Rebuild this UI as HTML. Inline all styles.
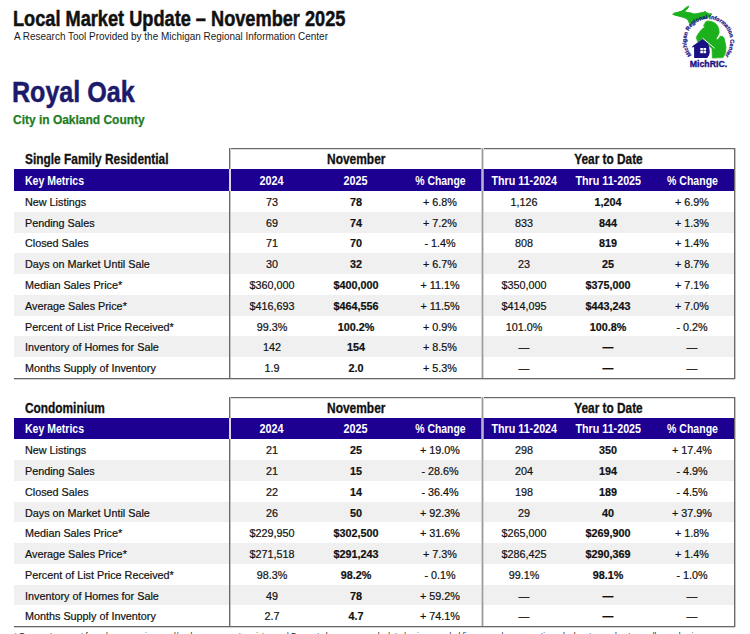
<!DOCTYPE html><html><head><meta charset="utf-8"><style>
html,body{margin:0;padding:0;background:#fff;width:750px;height:634px;overflow:hidden;position:relative}
.t{position:absolute;white-space:nowrap;font-family:"Liberation Sans", sans-serif;line-height:1;}
.b{position:absolute}
</style></head><body>
<div class="b" style="left:14px;top:169px;width:720px;height:22px;background:#1d0092"></div>
<div class="b" style="left:14px;top:212px;width:720px;height:21px;background:#f0f0f0"></div>
<div class="b" style="left:14px;top:253px;width:720px;height:21px;background:#f0f0f0"></div>
<div class="b" style="left:14px;top:295px;width:720px;height:21px;background:#f0f0f0"></div>
<div class="b" style="left:14px;top:336px;width:720px;height:21px;background:#f0f0f0"></div>
<div class="b" style="left:229px;top:148px;width:506px;height:1px;background:#686868"></div>
<div class="b" style="left:230px;top:149px;width:504px;height:1px;background:#dedede"></div>
<div class="b" style="left:229px;top:148px;width:1px;height:231px;background:#686868"></div>
<div class="b" style="left:230px;top:148px;width:1px;height:231px;background:#c4c4c4"></div>
<div class="b" style="left:734px;top:148px;width:1px;height:231px;background:#686868"></div>
<div class="b" style="left:735px;top:148px;width:1px;height:231px;background:#c4c4c4"></div>
<div class="b" style="left:482px;top:148px;width:1px;height:231px;background:#9a9a9a"></div>
<div class="b" style="left:481px;top:148px;width:1px;height:231px;background:#d6d6d6"></div>
<div class="b" style="left:483px;top:148px;width:1px;height:231px;background:#d6d6d6"></div>
<div class="b" style="left:229px;top:169px;width:2px;height:22px;background:#d8d8ea"></div>
<div class="b" style="left:481px;top:169px;width:3px;height:22px;background:#8f8fc0"></div>
<div class="b" style="left:482px;top:169px;width:1px;height:22px;background:#b4b4cc"></div>
<div class="b" style="left:14px;top:378px;width:721px;height:1px;background:#686868"></div>
<div class="b" style="left:14px;top:379px;width:721px;height:1px;background:#d0d0d0"></div>
<div class="b" style="left:14px;top:418px;width:720px;height:21px;background:#1d0092"></div>
<div class="b" style="left:14px;top:460px;width:720px;height:21px;background:#f0f0f0"></div>
<div class="b" style="left:14px;top:502px;width:720px;height:20px;background:#f0f0f0"></div>
<div class="b" style="left:14px;top:543px;width:720px;height:21px;background:#f0f0f0"></div>
<div class="b" style="left:14px;top:585px;width:720px;height:20px;background:#f0f0f0"></div>
<div class="b" style="left:229px;top:397px;width:506px;height:1px;background:#686868"></div>
<div class="b" style="left:230px;top:398px;width:504px;height:1px;background:#dedede"></div>
<div class="b" style="left:229px;top:397px;width:1px;height:230px;background:#686868"></div>
<div class="b" style="left:230px;top:397px;width:1px;height:230px;background:#c4c4c4"></div>
<div class="b" style="left:734px;top:397px;width:1px;height:230px;background:#686868"></div>
<div class="b" style="left:735px;top:397px;width:1px;height:230px;background:#c4c4c4"></div>
<div class="b" style="left:482px;top:397px;width:1px;height:230px;background:#9a9a9a"></div>
<div class="b" style="left:481px;top:397px;width:1px;height:230px;background:#d6d6d6"></div>
<div class="b" style="left:483px;top:397px;width:1px;height:230px;background:#d6d6d6"></div>
<div class="b" style="left:229px;top:418px;width:2px;height:21px;background:#d8d8ea"></div>
<div class="b" style="left:481px;top:418px;width:3px;height:21px;background:#8f8fc0"></div>
<div class="b" style="left:482px;top:418px;width:1px;height:21px;background:#b4b4cc"></div>
<div class="b" style="left:14px;top:626px;width:721px;height:1px;background:#686868"></div>
<div class="b" style="left:14px;top:627px;width:721px;height:1px;background:#d0d0d0"></div>
<div class="t" style="left:13.40px;top:7.55px;font-size:21.80px;font-weight:700;color:#111;-webkit-text-stroke:0.50px #111;"><span id="title" style="display:inline-block;transform:scaleX(0.8341);transform-origin:0 0">Local Market Update – November 2025</span></div>
<div class="t" style="left:14.30px;top:31.57px;font-size:10.20px;font-weight:400;color:#1a1a1a;"><span id="sub" style="display:inline-block;transform:scaleX(0.9766);transform-origin:0 0">A Research Tool Provided by the Michigan Regional Information Center</span></div>
<div class="t" style="left:12.40px;top:76.87px;font-size:29.80px;font-weight:700;color:#1b1a6b;-webkit-text-stroke:0.50px #1b1a6b;"><span id="city" style="display:inline-block;transform:scaleX(0.8414);transform-origin:0 0">Royal Oak</span></div>
<div class="t" style="left:13.00px;top:112.67px;font-size:13.50px;font-weight:700;color:#1e7d1e;-webkit-text-stroke:0.25px #1e7d1e;"><span id="county" style="display:inline-block;transform:scaleX(0.8866);transform-origin:0 0">City in Oakland County</span></div>
<div class="t" style="left:24.70px;top:152.15px;font-size:14.00px;font-weight:700;color:#111;-webkit-text-stroke:0.30px #111;"><span id="ah" style="display:inline-block;transform:scaleX(0.8497);transform-origin:0 0">Single Family Residential</span></div>
<div class="t" style="left:356.00px;top:152.15px;font-size:14.00px;font-weight:700;color:#111;width:0;display:flex;justify-content:center;-webkit-text-stroke:0.30px #111;"><span id="anov" style="display:inline-block;transform:scaleX(0.8529);transform-origin:50% 0">November</span></div>
<div class="t" style="left:608.00px;top:152.15px;font-size:14.00px;font-weight:700;color:#111;width:0;display:flex;justify-content:center;-webkit-text-stroke:0.30px #111;"><span id="aytd" style="display:inline-block;transform:scaleX(0.8457);transform-origin:50% 0">Year to Date</span></div>
<div class="t" style="left:24.70px;top:174.67px;font-size:12.20px;font-weight:700;color:#fff;"><span id="akm" style="display:inline-block;transform:scaleX(0.8632);transform-origin:0 0">Key Metrics</span></div>
<div class="t" style="left:272.00px;top:174.87px;font-size:12.20px;font-weight:700;color:#fff;width:0;display:flex;justify-content:center;"><span id="ahd0" style="display:inline-block;transform:scaleX(0.8889);transform-origin:50% 0">2024</span></div>
<div class="t" style="left:356.00px;top:174.87px;font-size:12.20px;font-weight:700;color:#fff;width:0;display:flex;justify-content:center;"><span id="ahd1" style="display:inline-block;transform:scaleX(0.8889);transform-origin:50% 0">2025</span></div>
<div class="t" style="left:440.00px;top:174.87px;font-size:12.20px;font-weight:700;color:#fff;width:0;display:flex;justify-content:center;"><span id="ahd2" style="display:inline-block;transform:scaleX(0.8559);transform-origin:50% 0">% Change</span></div>
<div class="t" style="left:524.00px;top:174.87px;font-size:12.20px;font-weight:700;color:#fff;width:0;display:flex;justify-content:center;"><span id="ahd3" style="display:inline-block;transform:scaleX(0.8800);transform-origin:50% 0">Thru 11-2024</span></div>
<div class="t" style="left:608.00px;top:174.87px;font-size:12.20px;font-weight:700;color:#fff;width:0;display:flex;justify-content:center;"><span id="ahd4" style="display:inline-block;transform:scaleX(0.8800);transform-origin:50% 0">Thru 11-2025</span></div>
<div class="t" style="left:692.00px;top:174.87px;font-size:12.20px;font-weight:700;color:#fff;width:0;display:flex;justify-content:center;"><span id="ahd5" style="display:inline-block;transform:scaleX(0.8644);transform-origin:50% 0">% Change</span></div>
<div class="t" style="left:25.00px;top:196.86px;font-size:10.80px;font-weight:400;color:#111;-webkit-text-stroke:0.20px #111;"><span id="ar0l" style="display:inline-block;transform:scaleX(1.0000);transform-origin:0 0">New Listings</span></div>
<div class="t" style="left:272.00px;top:196.86px;font-size:10.80px;font-weight:400;color:#111;width:0;display:flex;justify-content:center;-webkit-text-stroke:0.20px #111;"><span id="ar0c0" style="display:inline-block;transform:scaleX(1.0000);transform-origin:50% 0">73</span></div>
<div class="t" style="left:356.00px;top:196.86px;font-size:10.80px;font-weight:700;color:#111;width:0;display:flex;justify-content:center;-webkit-text-stroke:0.20px #111;"><span id="ar0c1" style="display:inline-block;transform:scaleX(1.0000);transform-origin:50% 0">78</span></div>
<div class="t" style="left:440.00px;top:196.86px;font-size:10.80px;font-weight:400;color:#111;width:0;display:flex;justify-content:center;-webkit-text-stroke:0.20px #111;"><span id="ar0c2" style="display:inline-block;transform:scaleX(1.0000);transform-origin:50% 0">+ 6.8%</span></div>
<div class="t" style="left:524.00px;top:196.86px;font-size:10.80px;font-weight:400;color:#111;width:0;display:flex;justify-content:center;-webkit-text-stroke:0.20px #111;"><span id="ar0c3" style="display:inline-block;transform:scaleX(1.0000);transform-origin:50% 0">1,126</span></div>
<div class="t" style="left:608.00px;top:196.86px;font-size:10.80px;font-weight:700;color:#111;width:0;display:flex;justify-content:center;-webkit-text-stroke:0.20px #111;"><span id="ar0c4" style="display:inline-block;transform:scaleX(1.0000);transform-origin:50% 0">1,204</span></div>
<div class="t" style="left:692.00px;top:196.86px;font-size:10.80px;font-weight:400;color:#111;width:0;display:flex;justify-content:center;-webkit-text-stroke:0.20px #111;"><span id="ar0c5" style="display:inline-block;transform:scaleX(1.0000);transform-origin:50% 0">+ 6.9%</span></div>
<div class="t" style="left:25.00px;top:217.64px;font-size:10.80px;font-weight:400;color:#111;-webkit-text-stroke:0.20px #111;"><span id="ar1l" style="display:inline-block;transform:scaleX(1.0000);transform-origin:0 0">Pending Sales</span></div>
<div class="t" style="left:272.00px;top:217.64px;font-size:10.80px;font-weight:400;color:#111;width:0;display:flex;justify-content:center;-webkit-text-stroke:0.20px #111;"><span id="ar1c0" style="display:inline-block;transform:scaleX(1.0000);transform-origin:50% 0">69</span></div>
<div class="t" style="left:356.00px;top:217.64px;font-size:10.80px;font-weight:700;color:#111;width:0;display:flex;justify-content:center;-webkit-text-stroke:0.20px #111;"><span id="ar1c1" style="display:inline-block;transform:scaleX(1.0000);transform-origin:50% 0">74</span></div>
<div class="t" style="left:440.00px;top:217.64px;font-size:10.80px;font-weight:400;color:#111;width:0;display:flex;justify-content:center;-webkit-text-stroke:0.20px #111;"><span id="ar1c2" style="display:inline-block;transform:scaleX(1.0000);transform-origin:50% 0">+ 7.2%</span></div>
<div class="t" style="left:524.00px;top:217.64px;font-size:10.80px;font-weight:400;color:#111;width:0;display:flex;justify-content:center;-webkit-text-stroke:0.20px #111;"><span id="ar1c3" style="display:inline-block;transform:scaleX(1.0000);transform-origin:50% 0">833</span></div>
<div class="t" style="left:608.00px;top:217.64px;font-size:10.80px;font-weight:700;color:#111;width:0;display:flex;justify-content:center;-webkit-text-stroke:0.20px #111;"><span id="ar1c4" style="display:inline-block;transform:scaleX(1.0000);transform-origin:50% 0">844</span></div>
<div class="t" style="left:692.00px;top:217.64px;font-size:10.80px;font-weight:400;color:#111;width:0;display:flex;justify-content:center;-webkit-text-stroke:0.20px #111;"><span id="ar1c5" style="display:inline-block;transform:scaleX(1.0000);transform-origin:50% 0">+ 1.3%</span></div>
<div class="t" style="left:25.00px;top:238.41px;font-size:10.80px;font-weight:400;color:#111;-webkit-text-stroke:0.20px #111;"><span id="ar2l" style="display:inline-block;transform:scaleX(1.0000);transform-origin:0 0">Closed Sales</span></div>
<div class="t" style="left:272.00px;top:238.41px;font-size:10.80px;font-weight:400;color:#111;width:0;display:flex;justify-content:center;-webkit-text-stroke:0.20px #111;"><span id="ar2c0" style="display:inline-block;transform:scaleX(1.0000);transform-origin:50% 0">71</span></div>
<div class="t" style="left:356.00px;top:238.41px;font-size:10.80px;font-weight:700;color:#111;width:0;display:flex;justify-content:center;-webkit-text-stroke:0.20px #111;"><span id="ar2c1" style="display:inline-block;transform:scaleX(1.0000);transform-origin:50% 0">70</span></div>
<div class="t" style="left:440.00px;top:238.41px;font-size:10.80px;font-weight:400;color:#111;width:0;display:flex;justify-content:center;-webkit-text-stroke:0.20px #111;"><span id="ar2c2" style="display:inline-block;transform:scaleX(1.0000);transform-origin:50% 0">- 1.4%</span></div>
<div class="t" style="left:524.00px;top:238.41px;font-size:10.80px;font-weight:400;color:#111;width:0;display:flex;justify-content:center;-webkit-text-stroke:0.20px #111;"><span id="ar2c3" style="display:inline-block;transform:scaleX(1.0000);transform-origin:50% 0">808</span></div>
<div class="t" style="left:608.00px;top:238.41px;font-size:10.80px;font-weight:700;color:#111;width:0;display:flex;justify-content:center;-webkit-text-stroke:0.20px #111;"><span id="ar2c4" style="display:inline-block;transform:scaleX(1.0000);transform-origin:50% 0">819</span></div>
<div class="t" style="left:692.00px;top:238.41px;font-size:10.80px;font-weight:400;color:#111;width:0;display:flex;justify-content:center;-webkit-text-stroke:0.20px #111;"><span id="ar2c5" style="display:inline-block;transform:scaleX(1.0000);transform-origin:50% 0">+ 1.4%</span></div>
<div class="t" style="left:25.00px;top:259.19px;font-size:10.80px;font-weight:400;color:#111;-webkit-text-stroke:0.20px #111;"><span id="ar3l" style="display:inline-block;transform:scaleX(1.0000);transform-origin:0 0">Days on Market Until Sale</span></div>
<div class="t" style="left:272.00px;top:259.19px;font-size:10.80px;font-weight:400;color:#111;width:0;display:flex;justify-content:center;-webkit-text-stroke:0.20px #111;"><span id="ar3c0" style="display:inline-block;transform:scaleX(1.0000);transform-origin:50% 0">30</span></div>
<div class="t" style="left:356.00px;top:259.19px;font-size:10.80px;font-weight:700;color:#111;width:0;display:flex;justify-content:center;-webkit-text-stroke:0.20px #111;"><span id="ar3c1" style="display:inline-block;transform:scaleX(1.0000);transform-origin:50% 0">32</span></div>
<div class="t" style="left:440.00px;top:259.19px;font-size:10.80px;font-weight:400;color:#111;width:0;display:flex;justify-content:center;-webkit-text-stroke:0.20px #111;"><span id="ar3c2" style="display:inline-block;transform:scaleX(1.0000);transform-origin:50% 0">+ 6.7%</span></div>
<div class="t" style="left:524.00px;top:259.19px;font-size:10.80px;font-weight:400;color:#111;width:0;display:flex;justify-content:center;-webkit-text-stroke:0.20px #111;"><span id="ar3c3" style="display:inline-block;transform:scaleX(1.0000);transform-origin:50% 0">23</span></div>
<div class="t" style="left:608.00px;top:259.19px;font-size:10.80px;font-weight:700;color:#111;width:0;display:flex;justify-content:center;-webkit-text-stroke:0.20px #111;"><span id="ar3c4" style="display:inline-block;transform:scaleX(1.0000);transform-origin:50% 0">25</span></div>
<div class="t" style="left:692.00px;top:259.19px;font-size:10.80px;font-weight:400;color:#111;width:0;display:flex;justify-content:center;-webkit-text-stroke:0.20px #111;"><span id="ar3c5" style="display:inline-block;transform:scaleX(1.0000);transform-origin:50% 0">+ 8.7%</span></div>
<div class="t" style="left:25.00px;top:279.97px;font-size:10.80px;font-weight:400;color:#111;-webkit-text-stroke:0.20px #111;"><span id="ar4l" style="display:inline-block;transform:scaleX(1.0000);transform-origin:0 0">Median Sales Price*</span></div>
<div class="t" style="left:272.00px;top:279.97px;font-size:10.80px;font-weight:400;color:#111;width:0;display:flex;justify-content:center;-webkit-text-stroke:0.20px #111;"><span id="ar4c0" style="display:inline-block;transform:scaleX(1.0000);transform-origin:50% 0">$360,000</span></div>
<div class="t" style="left:356.00px;top:279.97px;font-size:10.80px;font-weight:700;color:#111;width:0;display:flex;justify-content:center;-webkit-text-stroke:0.20px #111;"><span id="ar4c1" style="display:inline-block;transform:scaleX(1.0000);transform-origin:50% 0">$400,000</span></div>
<div class="t" style="left:440.00px;top:279.97px;font-size:10.80px;font-weight:400;color:#111;width:0;display:flex;justify-content:center;-webkit-text-stroke:0.20px #111;"><span id="ar4c2" style="display:inline-block;transform:scaleX(1.0000);transform-origin:50% 0">+ 11.1%</span></div>
<div class="t" style="left:524.00px;top:279.97px;font-size:10.80px;font-weight:400;color:#111;width:0;display:flex;justify-content:center;-webkit-text-stroke:0.20px #111;"><span id="ar4c3" style="display:inline-block;transform:scaleX(1.0000);transform-origin:50% 0">$350,000</span></div>
<div class="t" style="left:608.00px;top:279.97px;font-size:10.80px;font-weight:700;color:#111;width:0;display:flex;justify-content:center;-webkit-text-stroke:0.20px #111;"><span id="ar4c4" style="display:inline-block;transform:scaleX(1.0000);transform-origin:50% 0">$375,000</span></div>
<div class="t" style="left:692.00px;top:279.97px;font-size:10.80px;font-weight:400;color:#111;width:0;display:flex;justify-content:center;-webkit-text-stroke:0.20px #111;"><span id="ar4c5" style="display:inline-block;transform:scaleX(1.0000);transform-origin:50% 0">+ 7.1%</span></div>
<div class="t" style="left:25.00px;top:300.75px;font-size:10.80px;font-weight:400;color:#111;-webkit-text-stroke:0.20px #111;"><span id="ar5l" style="display:inline-block;transform:scaleX(1.0000);transform-origin:0 0">Average Sales Price*</span></div>
<div class="t" style="left:272.00px;top:300.75px;font-size:10.80px;font-weight:400;color:#111;width:0;display:flex;justify-content:center;-webkit-text-stroke:0.20px #111;"><span id="ar5c0" style="display:inline-block;transform:scaleX(1.0000);transform-origin:50% 0">$416,693</span></div>
<div class="t" style="left:356.00px;top:300.75px;font-size:10.80px;font-weight:700;color:#111;width:0;display:flex;justify-content:center;-webkit-text-stroke:0.20px #111;"><span id="ar5c1" style="display:inline-block;transform:scaleX(1.0000);transform-origin:50% 0">$464,556</span></div>
<div class="t" style="left:440.00px;top:300.75px;font-size:10.80px;font-weight:400;color:#111;width:0;display:flex;justify-content:center;-webkit-text-stroke:0.20px #111;"><span id="ar5c2" style="display:inline-block;transform:scaleX(1.0000);transform-origin:50% 0">+ 11.5%</span></div>
<div class="t" style="left:524.00px;top:300.75px;font-size:10.80px;font-weight:400;color:#111;width:0;display:flex;justify-content:center;-webkit-text-stroke:0.20px #111;"><span id="ar5c3" style="display:inline-block;transform:scaleX(1.0000);transform-origin:50% 0">$414,095</span></div>
<div class="t" style="left:608.00px;top:300.75px;font-size:10.80px;font-weight:700;color:#111;width:0;display:flex;justify-content:center;-webkit-text-stroke:0.20px #111;"><span id="ar5c4" style="display:inline-block;transform:scaleX(1.0000);transform-origin:50% 0">$443,243</span></div>
<div class="t" style="left:692.00px;top:300.75px;font-size:10.80px;font-weight:400;color:#111;width:0;display:flex;justify-content:center;-webkit-text-stroke:0.20px #111;"><span id="ar5c5" style="display:inline-block;transform:scaleX(1.0000);transform-origin:50% 0">+ 7.0%</span></div>
<div class="t" style="left:25.00px;top:321.52px;font-size:10.80px;font-weight:400;color:#111;-webkit-text-stroke:0.20px #111;"><span id="ar6l" style="display:inline-block;transform:scaleX(1.0000);transform-origin:0 0">Percent of List Price Received*</span></div>
<div class="t" style="left:272.00px;top:321.52px;font-size:10.80px;font-weight:400;color:#111;width:0;display:flex;justify-content:center;-webkit-text-stroke:0.20px #111;"><span id="ar6c0" style="display:inline-block;transform:scaleX(1.0000);transform-origin:50% 0">99.3%</span></div>
<div class="t" style="left:356.00px;top:321.52px;font-size:10.80px;font-weight:700;color:#111;width:0;display:flex;justify-content:center;-webkit-text-stroke:0.20px #111;"><span id="ar6c1" style="display:inline-block;transform:scaleX(1.0000);transform-origin:50% 0">100.2%</span></div>
<div class="t" style="left:440.00px;top:321.52px;font-size:10.80px;font-weight:400;color:#111;width:0;display:flex;justify-content:center;-webkit-text-stroke:0.20px #111;"><span id="ar6c2" style="display:inline-block;transform:scaleX(1.0000);transform-origin:50% 0">+ 0.9%</span></div>
<div class="t" style="left:524.00px;top:321.52px;font-size:10.80px;font-weight:400;color:#111;width:0;display:flex;justify-content:center;-webkit-text-stroke:0.20px #111;"><span id="ar6c3" style="display:inline-block;transform:scaleX(1.0000);transform-origin:50% 0">101.0%</span></div>
<div class="t" style="left:608.00px;top:321.52px;font-size:10.80px;font-weight:700;color:#111;width:0;display:flex;justify-content:center;-webkit-text-stroke:0.20px #111;"><span id="ar6c4" style="display:inline-block;transform:scaleX(1.0000);transform-origin:50% 0">100.8%</span></div>
<div class="t" style="left:692.00px;top:321.52px;font-size:10.80px;font-weight:400;color:#111;width:0;display:flex;justify-content:center;-webkit-text-stroke:0.20px #111;"><span id="ar6c5" style="display:inline-block;transform:scaleX(1.0000);transform-origin:50% 0">- 0.2%</span></div>
<div class="t" style="left:25.00px;top:342.30px;font-size:10.80px;font-weight:400;color:#111;-webkit-text-stroke:0.20px #111;"><span id="ar7l" style="display:inline-block;transform:scaleX(1.0000);transform-origin:0 0">Inventory of Homes for Sale</span></div>
<div class="t" style="left:272.00px;top:342.30px;font-size:10.80px;font-weight:400;color:#111;width:0;display:flex;justify-content:center;-webkit-text-stroke:0.20px #111;"><span id="ar7c0" style="display:inline-block;transform:scaleX(1.0000);transform-origin:50% 0">142</span></div>
<div class="t" style="left:356.00px;top:342.30px;font-size:10.80px;font-weight:700;color:#111;width:0;display:flex;justify-content:center;-webkit-text-stroke:0.20px #111;"><span id="ar7c1" style="display:inline-block;transform:scaleX(1.0000);transform-origin:50% 0">154</span></div>
<div class="t" style="left:440.00px;top:342.30px;font-size:10.80px;font-weight:400;color:#111;width:0;display:flex;justify-content:center;-webkit-text-stroke:0.20px #111;"><span id="ar7c2" style="display:inline-block;transform:scaleX(1.0000);transform-origin:50% 0">+ 8.5%</span></div>
<div class="t" style="left:524.00px;top:342.30px;font-size:10.80px;font-weight:400;color:#111;width:0;display:flex;justify-content:center;-webkit-text-stroke:0.20px #111;"><span id="ar7c3" style="display:inline-block;transform:scaleX(1.0000);transform-origin:50% 0">—</span></div>
<div class="t" style="left:608.00px;top:342.30px;font-size:10.80px;font-weight:700;color:#111;width:0;display:flex;justify-content:center;-webkit-text-stroke:0.20px #111;"><span id="ar7c4" style="display:inline-block;transform:scaleX(1.0000);transform-origin:50% 0">—</span></div>
<div class="t" style="left:692.00px;top:342.30px;font-size:10.80px;font-weight:400;color:#111;width:0;display:flex;justify-content:center;-webkit-text-stroke:0.20px #111;"><span id="ar7c5" style="display:inline-block;transform:scaleX(1.0000);transform-origin:50% 0">—</span></div>
<div class="t" style="left:25.00px;top:363.08px;font-size:10.80px;font-weight:400;color:#111;-webkit-text-stroke:0.20px #111;"><span id="ar8l" style="display:inline-block;transform:scaleX(1.0000);transform-origin:0 0">Months Supply of Inventory</span></div>
<div class="t" style="left:272.00px;top:363.08px;font-size:10.80px;font-weight:400;color:#111;width:0;display:flex;justify-content:center;-webkit-text-stroke:0.20px #111;"><span id="ar8c0" style="display:inline-block;transform:scaleX(1.0000);transform-origin:50% 0">1.9</span></div>
<div class="t" style="left:356.00px;top:363.08px;font-size:10.80px;font-weight:700;color:#111;width:0;display:flex;justify-content:center;-webkit-text-stroke:0.20px #111;"><span id="ar8c1" style="display:inline-block;transform:scaleX(1.0000);transform-origin:50% 0">2.0</span></div>
<div class="t" style="left:440.00px;top:363.08px;font-size:10.80px;font-weight:400;color:#111;width:0;display:flex;justify-content:center;-webkit-text-stroke:0.20px #111;"><span id="ar8c2" style="display:inline-block;transform:scaleX(1.0000);transform-origin:50% 0">+ 5.3%</span></div>
<div class="t" style="left:524.00px;top:363.08px;font-size:10.80px;font-weight:400;color:#111;width:0;display:flex;justify-content:center;-webkit-text-stroke:0.20px #111;"><span id="ar8c3" style="display:inline-block;transform:scaleX(1.0000);transform-origin:50% 0">—</span></div>
<div class="t" style="left:608.00px;top:363.08px;font-size:10.80px;font-weight:700;color:#111;width:0;display:flex;justify-content:center;-webkit-text-stroke:0.20px #111;"><span id="ar8c4" style="display:inline-block;transform:scaleX(1.0000);transform-origin:50% 0">—</span></div>
<div class="t" style="left:692.00px;top:363.08px;font-size:10.80px;font-weight:400;color:#111;width:0;display:flex;justify-content:center;-webkit-text-stroke:0.20px #111;"><span id="ar8c5" style="display:inline-block;transform:scaleX(1.0000);transform-origin:50% 0">—</span></div>
<div class="t" style="left:24.70px;top:400.65px;font-size:14.00px;font-weight:700;color:#111;-webkit-text-stroke:0.30px #111;"><span id="bh" style="display:inline-block;transform:scaleX(0.8472);transform-origin:0 0">Condominium</span></div>
<div class="t" style="left:356.00px;top:400.65px;font-size:14.00px;font-weight:700;color:#111;width:0;display:flex;justify-content:center;-webkit-text-stroke:0.30px #111;"><span id="bnov" style="display:inline-block;transform:scaleX(0.8529);transform-origin:50% 0">November</span></div>
<div class="t" style="left:608.00px;top:400.65px;font-size:14.00px;font-weight:700;color:#111;width:0;display:flex;justify-content:center;-webkit-text-stroke:0.30px #111;"><span id="bytd" style="display:inline-block;transform:scaleX(0.8457);transform-origin:50% 0">Year to Date</span></div>
<div class="t" style="left:24.70px;top:423.17px;font-size:12.20px;font-weight:700;color:#fff;"><span id="bkm" style="display:inline-block;transform:scaleX(0.8632);transform-origin:0 0">Key Metrics</span></div>
<div class="t" style="left:272.00px;top:423.37px;font-size:12.20px;font-weight:700;color:#fff;width:0;display:flex;justify-content:center;"><span id="bhd0" style="display:inline-block;transform:scaleX(0.8889);transform-origin:50% 0">2024</span></div>
<div class="t" style="left:356.00px;top:423.37px;font-size:12.20px;font-weight:700;color:#fff;width:0;display:flex;justify-content:center;"><span id="bhd1" style="display:inline-block;transform:scaleX(0.8889);transform-origin:50% 0">2025</span></div>
<div class="t" style="left:440.00px;top:423.37px;font-size:12.20px;font-weight:700;color:#fff;width:0;display:flex;justify-content:center;"><span id="bhd2" style="display:inline-block;transform:scaleX(0.8559);transform-origin:50% 0">% Change</span></div>
<div class="t" style="left:524.00px;top:423.37px;font-size:12.20px;font-weight:700;color:#fff;width:0;display:flex;justify-content:center;"><span id="bhd3" style="display:inline-block;transform:scaleX(0.8800);transform-origin:50% 0">Thru 11-2024</span></div>
<div class="t" style="left:608.00px;top:423.37px;font-size:12.20px;font-weight:700;color:#fff;width:0;display:flex;justify-content:center;"><span id="bhd4" style="display:inline-block;transform:scaleX(0.8800);transform-origin:50% 0">Thru 11-2025</span></div>
<div class="t" style="left:692.00px;top:423.37px;font-size:12.20px;font-weight:700;color:#fff;width:0;display:flex;justify-content:center;"><span id="bhd5" style="display:inline-block;transform:scaleX(0.8644);transform-origin:50% 0">% Change</span></div>
<div class="t" style="left:25.00px;top:445.26px;font-size:10.80px;font-weight:400;color:#111;-webkit-text-stroke:0.20px #111;"><span id="br0l" style="display:inline-block;transform:scaleX(1.0000);transform-origin:0 0">New Listings</span></div>
<div class="t" style="left:272.00px;top:445.26px;font-size:10.80px;font-weight:400;color:#111;width:0;display:flex;justify-content:center;-webkit-text-stroke:0.20px #111;"><span id="br0c0" style="display:inline-block;transform:scaleX(1.0000);transform-origin:50% 0">21</span></div>
<div class="t" style="left:356.00px;top:445.26px;font-size:10.80px;font-weight:700;color:#111;width:0;display:flex;justify-content:center;-webkit-text-stroke:0.20px #111;"><span id="br0c1" style="display:inline-block;transform:scaleX(1.0000);transform-origin:50% 0">25</span></div>
<div class="t" style="left:440.00px;top:445.26px;font-size:10.80px;font-weight:400;color:#111;width:0;display:flex;justify-content:center;-webkit-text-stroke:0.20px #111;"><span id="br0c2" style="display:inline-block;transform:scaleX(1.0000);transform-origin:50% 0">+ 19.0%</span></div>
<div class="t" style="left:524.00px;top:445.26px;font-size:10.80px;font-weight:400;color:#111;width:0;display:flex;justify-content:center;-webkit-text-stroke:0.20px #111;"><span id="br0c3" style="display:inline-block;transform:scaleX(1.0000);transform-origin:50% 0">298</span></div>
<div class="t" style="left:608.00px;top:445.26px;font-size:10.80px;font-weight:700;color:#111;width:0;display:flex;justify-content:center;-webkit-text-stroke:0.20px #111;"><span id="br0c4" style="display:inline-block;transform:scaleX(1.0000);transform-origin:50% 0">350</span></div>
<div class="t" style="left:692.00px;top:445.26px;font-size:10.80px;font-weight:400;color:#111;width:0;display:flex;justify-content:center;-webkit-text-stroke:0.20px #111;"><span id="br0c5" style="display:inline-block;transform:scaleX(1.0000);transform-origin:50% 0">+ 17.4%</span></div>
<div class="t" style="left:25.00px;top:466.01px;font-size:10.80px;font-weight:400;color:#111;-webkit-text-stroke:0.20px #111;"><span id="br1l" style="display:inline-block;transform:scaleX(1.0000);transform-origin:0 0">Pending Sales</span></div>
<div class="t" style="left:272.00px;top:466.01px;font-size:10.80px;font-weight:400;color:#111;width:0;display:flex;justify-content:center;-webkit-text-stroke:0.20px #111;"><span id="br1c0" style="display:inline-block;transform:scaleX(1.0000);transform-origin:50% 0">21</span></div>
<div class="t" style="left:356.00px;top:466.01px;font-size:10.80px;font-weight:700;color:#111;width:0;display:flex;justify-content:center;-webkit-text-stroke:0.20px #111;"><span id="br1c1" style="display:inline-block;transform:scaleX(1.0000);transform-origin:50% 0">15</span></div>
<div class="t" style="left:440.00px;top:466.01px;font-size:10.80px;font-weight:400;color:#111;width:0;display:flex;justify-content:center;-webkit-text-stroke:0.20px #111;"><span id="br1c2" style="display:inline-block;transform:scaleX(1.0000);transform-origin:50% 0">- 28.6%</span></div>
<div class="t" style="left:524.00px;top:466.01px;font-size:10.80px;font-weight:400;color:#111;width:0;display:flex;justify-content:center;-webkit-text-stroke:0.20px #111;"><span id="br1c3" style="display:inline-block;transform:scaleX(1.0000);transform-origin:50% 0">204</span></div>
<div class="t" style="left:608.00px;top:466.01px;font-size:10.80px;font-weight:700;color:#111;width:0;display:flex;justify-content:center;-webkit-text-stroke:0.20px #111;"><span id="br1c4" style="display:inline-block;transform:scaleX(1.0000);transform-origin:50% 0">194</span></div>
<div class="t" style="left:692.00px;top:466.01px;font-size:10.80px;font-weight:400;color:#111;width:0;display:flex;justify-content:center;-webkit-text-stroke:0.20px #111;"><span id="br1c5" style="display:inline-block;transform:scaleX(1.0000);transform-origin:50% 0">- 4.9%</span></div>
<div class="t" style="left:25.00px;top:486.77px;font-size:10.80px;font-weight:400;color:#111;-webkit-text-stroke:0.20px #111;"><span id="br2l" style="display:inline-block;transform:scaleX(1.0000);transform-origin:0 0">Closed Sales</span></div>
<div class="t" style="left:272.00px;top:486.77px;font-size:10.80px;font-weight:400;color:#111;width:0;display:flex;justify-content:center;-webkit-text-stroke:0.20px #111;"><span id="br2c0" style="display:inline-block;transform:scaleX(1.0000);transform-origin:50% 0">22</span></div>
<div class="t" style="left:356.00px;top:486.77px;font-size:10.80px;font-weight:700;color:#111;width:0;display:flex;justify-content:center;-webkit-text-stroke:0.20px #111;"><span id="br2c1" style="display:inline-block;transform:scaleX(1.0000);transform-origin:50% 0">14</span></div>
<div class="t" style="left:440.00px;top:486.77px;font-size:10.80px;font-weight:400;color:#111;width:0;display:flex;justify-content:center;-webkit-text-stroke:0.20px #111;"><span id="br2c2" style="display:inline-block;transform:scaleX(1.0000);transform-origin:50% 0">- 36.4%</span></div>
<div class="t" style="left:524.00px;top:486.77px;font-size:10.80px;font-weight:400;color:#111;width:0;display:flex;justify-content:center;-webkit-text-stroke:0.20px #111;"><span id="br2c3" style="display:inline-block;transform:scaleX(1.0000);transform-origin:50% 0">198</span></div>
<div class="t" style="left:608.00px;top:486.77px;font-size:10.80px;font-weight:700;color:#111;width:0;display:flex;justify-content:center;-webkit-text-stroke:0.20px #111;"><span id="br2c4" style="display:inline-block;transform:scaleX(1.0000);transform-origin:50% 0">189</span></div>
<div class="t" style="left:692.00px;top:486.77px;font-size:10.80px;font-weight:400;color:#111;width:0;display:flex;justify-content:center;-webkit-text-stroke:0.20px #111;"><span id="br2c5" style="display:inline-block;transform:scaleX(1.0000);transform-origin:50% 0">- 4.5%</span></div>
<div class="t" style="left:25.00px;top:507.52px;font-size:10.80px;font-weight:400;color:#111;-webkit-text-stroke:0.20px #111;"><span id="br3l" style="display:inline-block;transform:scaleX(1.0000);transform-origin:0 0">Days on Market Until Sale</span></div>
<div class="t" style="left:272.00px;top:507.52px;font-size:10.80px;font-weight:400;color:#111;width:0;display:flex;justify-content:center;-webkit-text-stroke:0.20px #111;"><span id="br3c0" style="display:inline-block;transform:scaleX(1.0000);transform-origin:50% 0">26</span></div>
<div class="t" style="left:356.00px;top:507.52px;font-size:10.80px;font-weight:700;color:#111;width:0;display:flex;justify-content:center;-webkit-text-stroke:0.20px #111;"><span id="br3c1" style="display:inline-block;transform:scaleX(1.0000);transform-origin:50% 0">50</span></div>
<div class="t" style="left:440.00px;top:507.52px;font-size:10.80px;font-weight:400;color:#111;width:0;display:flex;justify-content:center;-webkit-text-stroke:0.20px #111;"><span id="br3c2" style="display:inline-block;transform:scaleX(1.0000);transform-origin:50% 0">+ 92.3%</span></div>
<div class="t" style="left:524.00px;top:507.52px;font-size:10.80px;font-weight:400;color:#111;width:0;display:flex;justify-content:center;-webkit-text-stroke:0.20px #111;"><span id="br3c3" style="display:inline-block;transform:scaleX(1.0000);transform-origin:50% 0">29</span></div>
<div class="t" style="left:608.00px;top:507.52px;font-size:10.80px;font-weight:700;color:#111;width:0;display:flex;justify-content:center;-webkit-text-stroke:0.20px #111;"><span id="br3c4" style="display:inline-block;transform:scaleX(1.0000);transform-origin:50% 0">40</span></div>
<div class="t" style="left:692.00px;top:507.52px;font-size:10.80px;font-weight:400;color:#111;width:0;display:flex;justify-content:center;-webkit-text-stroke:0.20px #111;"><span id="br3c5" style="display:inline-block;transform:scaleX(1.0000);transform-origin:50% 0">+ 37.9%</span></div>
<div class="t" style="left:25.00px;top:528.28px;font-size:10.80px;font-weight:400;color:#111;-webkit-text-stroke:0.20px #111;"><span id="br4l" style="display:inline-block;transform:scaleX(1.0000);transform-origin:0 0">Median Sales Price*</span></div>
<div class="t" style="left:272.00px;top:528.28px;font-size:10.80px;font-weight:400;color:#111;width:0;display:flex;justify-content:center;-webkit-text-stroke:0.20px #111;"><span id="br4c0" style="display:inline-block;transform:scaleX(1.0000);transform-origin:50% 0">$229,950</span></div>
<div class="t" style="left:356.00px;top:528.28px;font-size:10.80px;font-weight:700;color:#111;width:0;display:flex;justify-content:center;-webkit-text-stroke:0.20px #111;"><span id="br4c1" style="display:inline-block;transform:scaleX(1.0000);transform-origin:50% 0">$302,500</span></div>
<div class="t" style="left:440.00px;top:528.28px;font-size:10.80px;font-weight:400;color:#111;width:0;display:flex;justify-content:center;-webkit-text-stroke:0.20px #111;"><span id="br4c2" style="display:inline-block;transform:scaleX(1.0000);transform-origin:50% 0">+ 31.6%</span></div>
<div class="t" style="left:524.00px;top:528.28px;font-size:10.80px;font-weight:400;color:#111;width:0;display:flex;justify-content:center;-webkit-text-stroke:0.20px #111;"><span id="br4c3" style="display:inline-block;transform:scaleX(1.0000);transform-origin:50% 0">$265,000</span></div>
<div class="t" style="left:608.00px;top:528.28px;font-size:10.80px;font-weight:700;color:#111;width:0;display:flex;justify-content:center;-webkit-text-stroke:0.20px #111;"><span id="br4c4" style="display:inline-block;transform:scaleX(1.0000);transform-origin:50% 0">$269,900</span></div>
<div class="t" style="left:692.00px;top:528.28px;font-size:10.80px;font-weight:400;color:#111;width:0;display:flex;justify-content:center;-webkit-text-stroke:0.20px #111;"><span id="br4c5" style="display:inline-block;transform:scaleX(1.0000);transform-origin:50% 0">+ 1.8%</span></div>
<div class="t" style="left:25.00px;top:549.04px;font-size:10.80px;font-weight:400;color:#111;-webkit-text-stroke:0.20px #111;"><span id="br5l" style="display:inline-block;transform:scaleX(1.0000);transform-origin:0 0">Average Sales Price*</span></div>
<div class="t" style="left:272.00px;top:549.04px;font-size:10.80px;font-weight:400;color:#111;width:0;display:flex;justify-content:center;-webkit-text-stroke:0.20px #111;"><span id="br5c0" style="display:inline-block;transform:scaleX(1.0000);transform-origin:50% 0">$271,518</span></div>
<div class="t" style="left:356.00px;top:549.04px;font-size:10.80px;font-weight:700;color:#111;width:0;display:flex;justify-content:center;-webkit-text-stroke:0.20px #111;"><span id="br5c1" style="display:inline-block;transform:scaleX(1.0000);transform-origin:50% 0">$291,243</span></div>
<div class="t" style="left:440.00px;top:549.04px;font-size:10.80px;font-weight:400;color:#111;width:0;display:flex;justify-content:center;-webkit-text-stroke:0.20px #111;"><span id="br5c2" style="display:inline-block;transform:scaleX(1.0000);transform-origin:50% 0">+ 7.3%</span></div>
<div class="t" style="left:524.00px;top:549.04px;font-size:10.80px;font-weight:400;color:#111;width:0;display:flex;justify-content:center;-webkit-text-stroke:0.20px #111;"><span id="br5c3" style="display:inline-block;transform:scaleX(1.0000);transform-origin:50% 0">$286,425</span></div>
<div class="t" style="left:608.00px;top:549.04px;font-size:10.80px;font-weight:700;color:#111;width:0;display:flex;justify-content:center;-webkit-text-stroke:0.20px #111;"><span id="br5c4" style="display:inline-block;transform:scaleX(1.0000);transform-origin:50% 0">$290,369</span></div>
<div class="t" style="left:692.00px;top:549.04px;font-size:10.80px;font-weight:400;color:#111;width:0;display:flex;justify-content:center;-webkit-text-stroke:0.20px #111;"><span id="br5c5" style="display:inline-block;transform:scaleX(1.0000);transform-origin:50% 0">+ 1.4%</span></div>
<div class="t" style="left:25.00px;top:569.79px;font-size:10.80px;font-weight:400;color:#111;-webkit-text-stroke:0.20px #111;"><span id="br6l" style="display:inline-block;transform:scaleX(1.0000);transform-origin:0 0">Percent of List Price Received*</span></div>
<div class="t" style="left:272.00px;top:569.79px;font-size:10.80px;font-weight:400;color:#111;width:0;display:flex;justify-content:center;-webkit-text-stroke:0.20px #111;"><span id="br6c0" style="display:inline-block;transform:scaleX(1.0000);transform-origin:50% 0">98.3%</span></div>
<div class="t" style="left:356.00px;top:569.79px;font-size:10.80px;font-weight:700;color:#111;width:0;display:flex;justify-content:center;-webkit-text-stroke:0.20px #111;"><span id="br6c1" style="display:inline-block;transform:scaleX(1.0000);transform-origin:50% 0">98.2%</span></div>
<div class="t" style="left:440.00px;top:569.79px;font-size:10.80px;font-weight:400;color:#111;width:0;display:flex;justify-content:center;-webkit-text-stroke:0.20px #111;"><span id="br6c2" style="display:inline-block;transform:scaleX(1.0000);transform-origin:50% 0">- 0.1%</span></div>
<div class="t" style="left:524.00px;top:569.79px;font-size:10.80px;font-weight:400;color:#111;width:0;display:flex;justify-content:center;-webkit-text-stroke:0.20px #111;"><span id="br6c3" style="display:inline-block;transform:scaleX(1.0000);transform-origin:50% 0">99.1%</span></div>
<div class="t" style="left:608.00px;top:569.79px;font-size:10.80px;font-weight:700;color:#111;width:0;display:flex;justify-content:center;-webkit-text-stroke:0.20px #111;"><span id="br6c4" style="display:inline-block;transform:scaleX(1.0000);transform-origin:50% 0">98.1%</span></div>
<div class="t" style="left:692.00px;top:569.79px;font-size:10.80px;font-weight:400;color:#111;width:0;display:flex;justify-content:center;-webkit-text-stroke:0.20px #111;"><span id="br6c5" style="display:inline-block;transform:scaleX(1.0000);transform-origin:50% 0">- 1.0%</span></div>
<div class="t" style="left:25.00px;top:590.55px;font-size:10.80px;font-weight:400;color:#111;-webkit-text-stroke:0.20px #111;"><span id="br7l" style="display:inline-block;transform:scaleX(1.0000);transform-origin:0 0">Inventory of Homes for Sale</span></div>
<div class="t" style="left:272.00px;top:590.55px;font-size:10.80px;font-weight:400;color:#111;width:0;display:flex;justify-content:center;-webkit-text-stroke:0.20px #111;"><span id="br7c0" style="display:inline-block;transform:scaleX(1.0000);transform-origin:50% 0">49</span></div>
<div class="t" style="left:356.00px;top:590.55px;font-size:10.80px;font-weight:700;color:#111;width:0;display:flex;justify-content:center;-webkit-text-stroke:0.20px #111;"><span id="br7c1" style="display:inline-block;transform:scaleX(1.0000);transform-origin:50% 0">78</span></div>
<div class="t" style="left:440.00px;top:590.55px;font-size:10.80px;font-weight:400;color:#111;width:0;display:flex;justify-content:center;-webkit-text-stroke:0.20px #111;"><span id="br7c2" style="display:inline-block;transform:scaleX(1.0000);transform-origin:50% 0">+ 59.2%</span></div>
<div class="t" style="left:524.00px;top:590.55px;font-size:10.80px;font-weight:400;color:#111;width:0;display:flex;justify-content:center;-webkit-text-stroke:0.20px #111;"><span id="br7c3" style="display:inline-block;transform:scaleX(1.0000);transform-origin:50% 0">—</span></div>
<div class="t" style="left:608.00px;top:590.55px;font-size:10.80px;font-weight:700;color:#111;width:0;display:flex;justify-content:center;-webkit-text-stroke:0.20px #111;"><span id="br7c4" style="display:inline-block;transform:scaleX(1.0000);transform-origin:50% 0">—</span></div>
<div class="t" style="left:692.00px;top:590.55px;font-size:10.80px;font-weight:400;color:#111;width:0;display:flex;justify-content:center;-webkit-text-stroke:0.20px #111;"><span id="br7c5" style="display:inline-block;transform:scaleX(1.0000);transform-origin:50% 0">—</span></div>
<div class="t" style="left:25.00px;top:611.30px;font-size:10.80px;font-weight:400;color:#111;-webkit-text-stroke:0.20px #111;"><span id="br8l" style="display:inline-block;transform:scaleX(1.0000);transform-origin:0 0">Months Supply of Inventory</span></div>
<div class="t" style="left:272.00px;top:611.30px;font-size:10.80px;font-weight:400;color:#111;width:0;display:flex;justify-content:center;-webkit-text-stroke:0.20px #111;"><span id="br8c0" style="display:inline-block;transform:scaleX(1.0000);transform-origin:50% 0">2.7</span></div>
<div class="t" style="left:356.00px;top:611.30px;font-size:10.80px;font-weight:700;color:#111;width:0;display:flex;justify-content:center;-webkit-text-stroke:0.20px #111;"><span id="br8c1" style="display:inline-block;transform:scaleX(1.0000);transform-origin:50% 0">4.7</span></div>
<div class="t" style="left:440.00px;top:611.30px;font-size:10.80px;font-weight:400;color:#111;width:0;display:flex;justify-content:center;-webkit-text-stroke:0.20px #111;"><span id="br8c2" style="display:inline-block;transform:scaleX(1.0000);transform-origin:50% 0">+ 74.1%</span></div>
<div class="t" style="left:524.00px;top:611.30px;font-size:10.80px;font-weight:400;color:#111;width:0;display:flex;justify-content:center;-webkit-text-stroke:0.20px #111;"><span id="br8c3" style="display:inline-block;transform:scaleX(1.0000);transform-origin:50% 0">—</span></div>
<div class="t" style="left:608.00px;top:611.30px;font-size:10.80px;font-weight:700;color:#111;width:0;display:flex;justify-content:center;-webkit-text-stroke:0.20px #111;"><span id="br8c4" style="display:inline-block;transform:scaleX(1.0000);transform-origin:50% 0">—</span></div>
<div class="t" style="left:692.00px;top:611.30px;font-size:10.80px;font-weight:400;color:#111;width:0;display:flex;justify-content:center;-webkit-text-stroke:0.20px #111;"><span id="br8c5" style="display:inline-block;transform:scaleX(1.0000);transform-origin:50% 0">—</span></div>
<div class="t" style="left:14.00px;top:631.55px;font-size:8.80px;font-weight:400;color:#222;"><span id="foot" style="display:inline-block;transform:scaleX(0.9326);transform-origin:0 0">* Does not account for sale concessions and/or down payment assistance. | Percent changes are calculated using rounded figures and can sometimes look extreme due to small sample size.</span></div>
<svg style="position:absolute;left:665px;top:0px" width="80" height="75" viewBox="665 0 80 75">
<defs><path id="arc" d="M691.45,55.14 A22.00,22.00 0 1 1 725.15,55.14"/></defs>
<polygon fill="#1cb01c" stroke="#1cb01c" stroke-width="1.0" stroke-linejoin="round" points="672.8,14 674.7,13 678.4,12.1 681.2,11.3 683.1,10.2 684.9,8.5 687.3,6.7 688.7,6.2 688.2,7.6 686.3,9.9 684.9,11.3 685.4,12.1 688.2,12.5 691,13 693.8,14 697.1,13.7 699.9,13 702.7,12.5 705.5,11.5 706.4,12.5 709.2,14 711.5,13.7 711.1,15.1 708.3,17.4 705.5,18.3 701.7,18.8 698,19.7 695.2,21.1 692.4,23 690.1,24.4 689.1,22.5 688.2,20.2 685.9,18.3 682.1,16.9 678.4,16 674.7,15.1 672.8,14.3"/>
<polygon fill="#1cb01c" stroke="#1cb01c" stroke-width="0.7" stroke-linejoin="round" points="705.6,21.8 707.3,21 711.5,21.4 715,23.1 717.5,25.7 718.8,29.1 719.2,32.5 717.9,35.9 716.7,37.6 716.2,39.3 717.9,39.7 720.1,36.3 722.6,36.3 724.3,38.5 725.2,42.7 726,47 725.6,52.1 724.3,55.5 723,57.6 712.4,58.1 712,48.5 708.5,45.5 708.1,43.6 702.6,38.9 697.9,41.9 696.2,37.6 697.9,34.2 700.5,30.8 703,28.2 704.7,27.4 703.4,25.2 704.7,24"/>
<path fill="none" stroke="#fff" stroke-width="1" d="M702.6,38.2 L714.6,48.2"/>
<path fill="#1a1184" d="M702.6,38.9 L708.1,43.6 Q709.6,47 709.8,52 Q709.6,56 707.3,57.9 L694.1,57.9 L694.1,47 L691.9,47.6 L692.6,46.1 Z"/>
<g fill="#fff"><rect x="700.3" y="48" width="2.6" height="2.3"/><rect x="703.5" y="48" width="2.6" height="2.3"/><rect x="700.3" y="50.9" width="2.6" height="2.3"/><rect x="703.5" y="50.9" width="2.6" height="2.3"/></g>
<text font-family="Liberation Sans, sans-serif" font-weight="700" font-size="5.6" fill="#1a1184" stroke="#1a1184" stroke-width="0.25"><textPath href="#arc" textLength="99.8" lengthAdjust="spacingAndGlyphs">Michigan Regional Information Center</textPath></text>
<text x="689.8" y="67.3" font-family="Liberation Sans, sans-serif" font-weight="700" font-size="8.4" fill="#1a1184" stroke="#1a1184" stroke-width="0.35" textLength="37.4" lengthAdjust="spacingAndGlyphs">MichRIC.</text>
</svg>
</body></html>
